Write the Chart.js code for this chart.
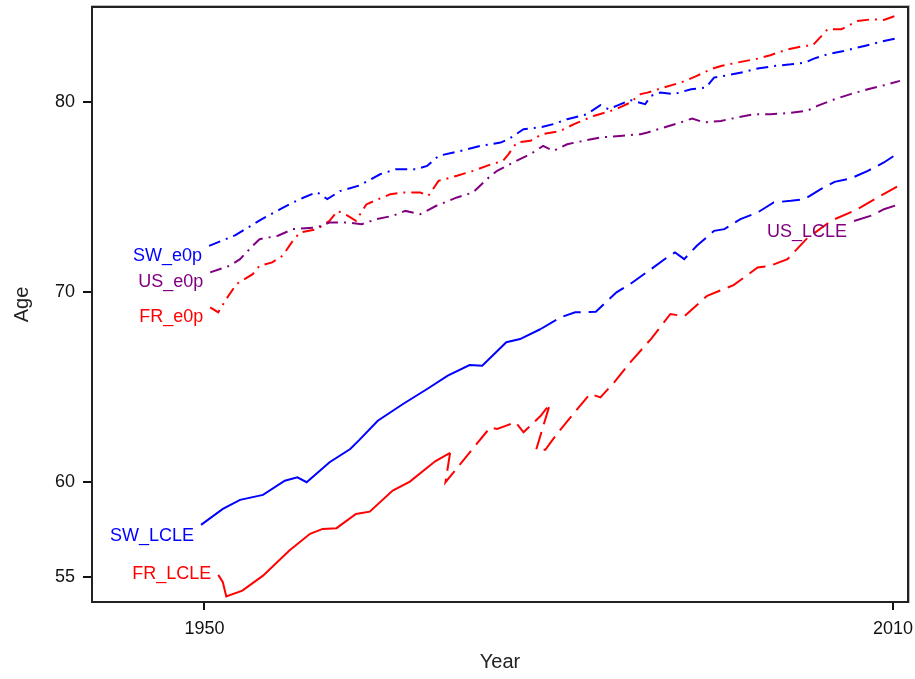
<!DOCTYPE html>
<html>
<head>
<meta charset="utf-8">
<script src="https://cdn.jsdelivr.net/npm/chart.js@4.4.1/dist/chart.umd.min.js"></script>
<style>
  html, body { margin: 0; padding: 0; background: #fff; }
  canvas { display: block; }
</style>
</head>
<body>
<canvas id="chart" width="915" height="679"></canvas>
<script>
// period life expectancy (e0p) and lagged cohort life expectancy (LCLE)
const swE0pYears = [1950.4, 1952.7, 1955.0, 1956.6, 1958.3, 1959.8, 1960.7, 1961.8, 1963.5, 1965.3, 1966.7, 1968.5, 1969.4, 1970.4, 1972.3, 1974.0, 1975.8, 1976.5, 1977.8, 1979.4, 1980.4, 1981.6, 1983.3, 1984.5, 1985.2, 1985.9, 1987.1, 1988.4, 1988.9, 1989.7, 1990.9, 1992.4, 1993.7, 1994.4, 1995.6, 1997.0, 1998.2, 1999.6, 2001.1, 2002.3, 2003.1, 2004.3, 2005.7, 2007.5, 2009.2, 2010.6]
const swE0p = [72.42, 72.98, 73.83, 74.35, 74.88, 75.25, 74.88, 75.3, 75.6, 76.19, 76.46, 76.46, 76.63, 77.16, 77.42, 77.68, 77.86, 78.04, 78.56, 78.68, 78.83, 79.09, 79.35, 79.83, 79.62, 79.79, 80.1, 79.88, 80.32, 80.49, 80.41, 80.67, 80.76, 81.28, 81.41, 81.58, 81.76, 81.89, 81.98, 82.07, 82.28, 82.51, 82.68, 82.95, 83.21, 83.39]

const usE0pYears = [1950.5, 1952.2, 1953.1, 1954.2, 1954.8, 1956.4, 1957.7, 1959.8, 1960.9, 1962.4, 1963.7, 1965.0, 1966.4, 1967.5, 1968.8, 1970.2, 1972.0, 1973.4, 1974.6, 1975.5, 1976.9, 1978.4, 1979.5, 1980.4, 1981.6, 1983.0, 1984.5, 1986.2, 1988.0, 1988.6, 1990.0, 1991.5, 1992.5, 1993.5, 1995.0, 1996.4, 1997.9, 1999.3, 2000.8, 2002.5, 2003.4, 2004.9, 2006.3, 2007.8, 2009.2, 2010.6]
const usE0p = [71.02, 71.37, 71.72, 72.42, 72.77, 72.95, 73.3, 73.39, 73.65, 73.65, 73.56, 73.83, 74.0, 74.26, 74.09, 74.53, 74.97, 75.23, 75.93, 76.37, 76.81, 77.25, 77.68, 77.42, 77.77, 77.95, 78.13, 78.21, 78.3, 78.39, 78.65, 78.92, 79.13, 78.92, 79.0, 79.18, 79.35, 79.35, 79.41, 79.53, 79.79, 80.14, 80.41, 80.67, 80.88, 81.11]

const frE0pYears = [1950.5, 1951.2, 1951.9, 1952.8, 1954.2, 1954.8, 1955.9, 1956.8, 1957.6, 1958.3, 1959.8, 1960.9, 1961.6, 1962.5, 1963.2, 1964.1, 1964.8, 1966.2, 1967.3, 1968.8, 1969.5, 1970.4, 1972.0, 1973.4, 1975.0, 1976.0, 1976.5, 1977.2, 1978.4, 1979.4, 1981.0, 1982.2, 1983.9, 1985.4, 1986.2, 1987.1, 1988.0, 1988.6, 1990.0, 1991.5, 1992.9, 1994.1, 1995.0, 1996.4, 1998.2, 1999.3, 2000.8, 2002.3, 2003.0, 2004.3, 2005.5, 2006.9, 2008.1, 2009.2, 2010.6]
const frE0p = [69.18, 68.92, 69.62, 70.41, 70.93, 71.37, 71.55, 71.89, 72.6, 73.12, 73.3, 73.74, 74.26, 74.0, 73.74, 74.6, 74.79, 75.14, 75.23, 75.23, 75.05, 75.84, 76.11, 76.37, 76.72, 76.89, 77.25, 77.86, 77.95, 78.3, 78.47, 78.83, 79.26, 79.53, 79.71, 79.97, 80.41, 80.49, 80.76, 81.02, 81.37, 81.72, 81.89, 82.07, 82.28, 82.46, 82.77, 82.95, 82.98, 83.83, 83.83, 84.26, 84.35, 84.32, 84.62]

const swLcleYears = [1949.7, 1951.6, 1953.1, 1955.1, 1957.0, 1958.1, 1958.9, 1960.9, 1962.7, 1963.5, 1965.1, 1967.3, 1969.4, 1971.2, 1973.1, 1974.2, 1976.3, 1977.5, 1979.3, 1981.0, 1982.3, 1984.1, 1985.9, 1987.1, 1988.9, 1990.3, 1991.0, 1991.8, 1992.9, 1994.4, 1995.3, 1996.7, 1998.2, 1999.6, 2001.1, 2002.3, 2003.7, 2004.9, 2006.3, 2007.8, 2009.2, 2010.6]
const swLcle = [57.72, 58.56, 59.04, 59.3, 60.05, 60.23, 59.97, 61.02, 61.72, 62.2, 63.21, 64.09, 64.88, 65.58, 66.14, 66.11, 67.34, 67.51, 68.04, 68.65, 68.92, 68.95, 69.97, 70.41, 71.19, 71.81, 72.07, 71.72, 72.42, 73.21, 73.3, 73.83, 74.18, 74.71, 74.79, 74.88, 75.41, 75.79, 75.97, 76.37, 76.81, 77.37]

// french series overlaps itself where the sources change
const frLcleYears = [1951.2, 1951.6, 1951.9, 1953.3, 1955.1, 1957.4, 1959.2, 1960.3, 1961.5, 1963.2, 1964.4, 1966.4, 1967.9, 1970.1, 1971.4, 1971.0, 1973.6, 1974.9, 1975.5, 1976.3, 1977.1, 1977.8, 1979.3, 1980.1, 1978.9, 1979.7, 1980.7, 1982.5, 1983.6, 1984.5, 1985.7, 1987.1, 1988.9, 1990.6, 1991.8, 1993.8, 1996.1, 1998.2, 1999.3, 2000.8, 2002.5, 2004.6, 2006.9, 2008.4, 2010.6]
const frLcle = [55.09, 54.7, 53.95, 54.26, 55.05, 56.37, 57.25, 57.51, 57.55, 58.3, 58.42, 59.53, 60.0, 61.07, 61.51, 59.97, 61.9, 62.86, 62.77, 62.95, 63.13, 62.6, 63.47, 64.09, 61.68, 61.68, 62.51, 63.83, 64.62, 64.44, 65.23, 66.28, 67.51, 68.83, 68.71, 69.79, 70.35, 71.28, 71.37, 71.72, 72.81, 73.74, 74.35, 74.88, 75.62]

const usLcleYears = [2006.6, 2008.2, 2009.2, 2010.6]
const usLcle = [73.73, 74.03, 74.35, 74.62]

const seriesNames = ['SW_e0p', 'US_e0p', 'FR_e0p', 'SW_LCLE', 'FR_LCLE', 'US_LCLE']
const xTicks = [1950, 2010]
const yTicks = [55, 60, 70, 80]

const BLUE = '#0000ff', RED = '#ff0000', PURPLE = '#800080'
const DASH_DOT = [12, 6, 2, 6]
const DASHED = [18, 8]

// LCLE lines are solid up to this point index, dashed afterwards
const solidUntil = { SW_LCLE: 18, FR_LCLE: 14, US_LCLE: 0 }
// vertical nudge of each name next to the first point of its line (px)
const labelShift = [10, 10, 10, 11, -1, 11]

function pts(xs, ys) {
  return xs.map((x, i) => ({ x: x, y: ys[i] }))
}

function periodLine(name, xs, ys, color) {
  return {
    label: name, data: pts(xs, ys),
    borderColor: color, borderWidth: 2, borderDash: DASH_DOT,
    pointRadius: 0, tension: 0, fill: false
  }
}

function cohortLine(name, xs, ys, color) {
  const cut = solidUntil[name]
  return {
    label: name, data: pts(xs, ys),
    borderColor: color, borderWidth: 2,
    pointRadius: 0, tension: 0, fill: false,
    segment: {
      borderDash: c => c.p0DataIndex >= cut ? DASHED : []
    }
  }
}

const frameAndNames = {
  id: 'frameAndNames',
  afterDatasetsDraw(chart) {
    const { ctx, chartArea: a, scales } = chart
    ctx.save()
    ctx.strokeStyle = '#bbb'
    ctx.lineWidth = 1
    ctx.strokeRect(a.left - 0.5, a.top - 1.5, a.right - a.left + 2, a.bottom - a.top + 2)
    ctx.strokeStyle = '#222'
    ctx.lineWidth = 2
    ctx.strokeRect(a.left, a.top, a.right - a.left, a.bottom - a.top)

    ctx.font = '18px "Liberation Sans", Arial, sans-serif'
    ctx.textAlign = 'right'
    ctx.textBaseline = 'middle'
    chart.data.datasets.forEach((ds, i) => {
      const p = ds.data[0]
      const px = scales.x.getPixelForValue(p.x) - 7
      const py = scales.y.getPixelForValue(p.y) + labelShift[i]
      ctx.fillStyle = ds.borderColor
      ctx.fillText(ds.label, px, py)
    })
    ctx.restore()
  }
}

const axisFont = { family: '"Liberation Sans", Arial, sans-serif', size: 18 }
const titleFont = { family: '"Liberation Sans", Arial, sans-serif', size: 20 }

// keep the plot box fixed: no extra room for half-labels at the ends
function fixBox(s, size) {
  if (s.isHorizontal()) s.height = size
  else s.width = size
  s.paddingTop = 0
  s.paddingBottom = 0
  s.paddingLeft = 0
  s.paddingRight = 0
}

new Chart(document.getElementById('chart'), {
  type: 'line',
  data: {
    datasets: [
      periodLine(seriesNames[0], swE0pYears, swE0p, BLUE),
      periodLine(seriesNames[1], usE0pYears, usE0p, PURPLE),
      periodLine(seriesNames[2], frE0pYears, frE0p, RED),
      cohortLine(seriesNames[3], swLcleYears, swLcle, BLUE),
      cohortLine(seriesNames[4], frLcleYears, frLcle, RED),
      cohortLine(seriesNames[5], usLcleYears, usLcle, PURPLE)
    ]
  },
  options: {
    responsive: false,
    animation: false,
    devicePixelRatio: 1,
    layout: { padding: { top: 7, right: 7, left: 0, bottom: 0 } },
    plugins: { legend: { display: false }, tooltip: { enabled: false } },
    scales: {
      x: {
        type: 'linear',
        min: 1940.2,
        max: 2011.3,
        afterBuildTicks: s => { s.ticks = xTicks.map(v => ({ value: v })) },
        afterFit: s => fixBox(s, 77),
        ticks: {
          autoSkip: false, maxRotation: 0, padding: 8,
          color: '#111', font: axisFont,
          callback: v => String(v)
        },
        grid: { drawOnChartArea: false, tickLength: 8, color: '#111', lineWidth: 2 },
        border: { color: '#222', width: 2 },
        title: { display: true, text: 'Year', color: '#222', font: titleFont, padding: { top: 0, bottom: 5 } }
      },
      y: {
        min: 53.66,
        max: 85.0,
        afterBuildTicks: s => { s.ticks = yTicks.map(v => ({ value: v })) },
        afterFit: s => fixBox(s, 92),
        ticks: { autoSkip: false, padding: 8, color: '#111', font: axisFont },
        grid: { drawOnChartArea: false, tickLength: 9, color: '#111', lineWidth: 2 },
        border: { color: '#222', width: 2 },
        title: { display: true, text: 'Age', color: '#222', font: titleFont, padding: { top: 10, bottom: 0 } }
      }
    }
  },
  plugins: [frameAndNames]
})
</script>
</body>
</html>
